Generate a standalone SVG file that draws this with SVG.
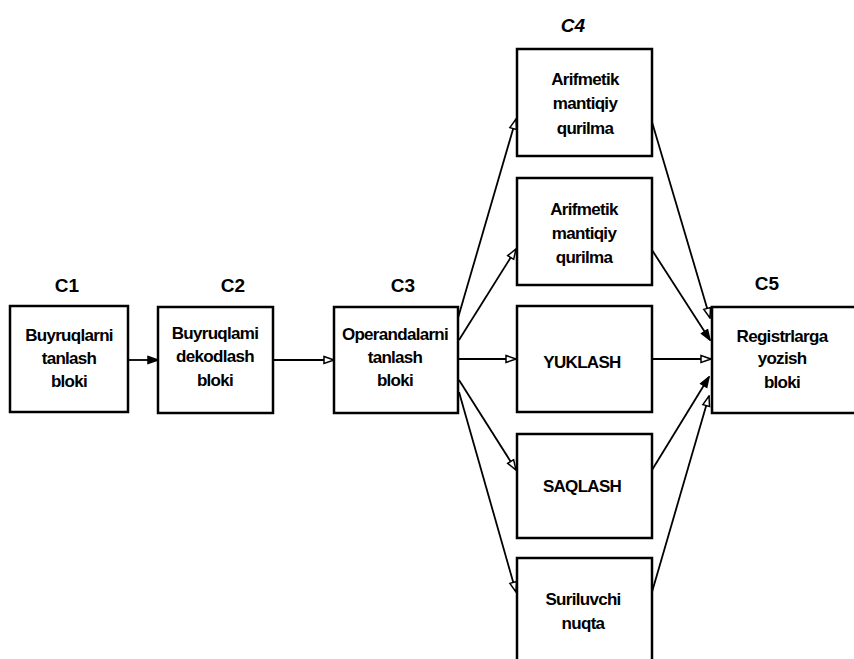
<svg xmlns="http://www.w3.org/2000/svg" width="854" height="659" viewBox="0 0 854 659">
<defs>
<marker id="arr" markerWidth="12" markerHeight="10" refX="11" refY="5" orient="auto" markerUnits="userSpaceOnUse">
<path d="M1,1.5 L11,5 L1,8.5 Z" fill="#fff" stroke="#000" stroke-width="1.5"/>
</marker>
<marker id="arrf" markerWidth="12" markerHeight="10" refX="11" refY="5" orient="auto" markerUnits="userSpaceOnUse">
<path d="M1,1.5 L11,5 L1,8.5 Z" fill="#000" stroke="#000" stroke-width="1.5"/>
</marker>
</defs>
<style>
.box{fill:#fff;stroke:#000;stroke-width:2.5}
.t{font-family:"Liberation Sans Narrow","Liberation Sans",Arial,sans-serif;font-weight:bold;font-size:17px;letter-spacing:-0.7px;fill:#000;text-anchor:middle}
.lab{font-family:"Liberation Sans",Arial,sans-serif;font-weight:bold;font-size:19px;fill:#000;text-anchor:middle}
.c{fill:none;stroke:#000;stroke-width:1.8}
</style>
<rect width="854" height="659" fill="#fff"/>

<g id="labels">
<text class="lab" x="67" y="292">C1</text>
<text class="lab" x="233" y="292">C2</text>
<text class="lab" x="403" y="292">C3</text>
<text class="lab" x="573" y="32" font-style="italic">C4</text>
<text class="lab" x="767" y="290">C5</text>
</g>

<g id="connectors">
<line class="c" x1="128" y1="360" x2="158" y2="360" marker-end="url(#arrf)"/>
<line class="c" x1="273" y1="360" x2="334" y2="360" marker-end="url(#arr)"/>
<line class="c" x1="458" y1="318" x2="516" y2="119" marker-end="url(#arr)"/>
<line class="c" x1="459" y1="340" x2="516" y2="249" marker-end="url(#arr)"/>
<line class="c" x1="459" y1="359" x2="516" y2="359" marker-end="url(#arr)"/>
<line class="c" x1="459" y1="380" x2="516" y2="470" marker-end="url(#arr)"/>
<line class="c" x1="459" y1="392" x2="516" y2="592" marker-end="url(#arr)"/>
<line class="c" x1="652" y1="122" x2="710" y2="318" marker-end="url(#arr)"/>
<line class="c" x1="652" y1="250" x2="710" y2="340" marker-end="url(#arrf)"/>
<line class="c" x1="652" y1="359" x2="711" y2="359" marker-end="url(#arr)"/>
<line class="c" x1="652" y1="470" x2="709" y2="377" marker-end="url(#arrf)"/>
<line class="c" x1="652" y1="592" x2="709" y2="396" marker-end="url(#arr)"/>
</g>

<g id="c1">
<rect class="box" x="10" y="306" width="118" height="106"/>
<text class="t" x="69" y="341">Buyruqlarni</text>
<text class="t" x="69" y="364">tanlash</text>
<text class="t" x="69" y="387">bloki</text>
</g>

<g id="c2">
<rect class="box" x="158" y="307" width="115" height="106"/>
<text class="t" x="215" y="339">Buyruqlami</text>
<text class="t" x="215" y="362">dekodlash</text>
<text class="t" x="215" y="386">bloki</text>
</g>

<g id="c3">
<rect class="box" x="334" y="307" width="124" height="106"/>
<text class="t" x="395" y="340">Operandalarni</text>
<text class="t" x="395" y="363">tanlash</text>
<text class="t" x="395" y="386">bloki</text>
</g>

<g id="c4a">
<rect class="box" x="517" y="49" width="135" height="107"/>
<text class="t" x="585" y="85">Arifmetik</text>
<text class="t" x="585" y="109">mantiqiy</text>
<text class="t" x="585" y="134">qurilma</text>
</g>

<g id="c4b">
<rect class="box" x="517" y="178" width="135" height="107"/>
<text class="t" x="584" y="215">Arifmetik</text>
<text class="t" x="584" y="239">mantiqiy</text>
<text class="t" x="584" y="263">qurilma</text>
</g>

<g id="c4c">
<rect class="box" x="517" y="306" width="135" height="106"/>
<text class="t" x="582" y="368">YUKLASH</text>
</g>

<g id="c4d">
<rect class="box" x="517" y="434" width="135" height="104"/>
<text class="t" x="582" y="492">SAQLASH</text>
</g>

<g id="c4e">
<rect class="box" x="517" y="558" width="135" height="120"/>
<text class="t" x="583" y="605">Suriluvchi</text>
<text class="t" x="583" y="629">nuqta</text>
</g>

<g id="c5">
<rect class="box" x="712" y="307" width="160" height="106"/>
<text class="t" x="782" y="342">Registrlarga</text>
<text class="t" x="782" y="364">yozish</text>
<text class="t" x="782" y="388">bloki</text>
</g>
</svg>
